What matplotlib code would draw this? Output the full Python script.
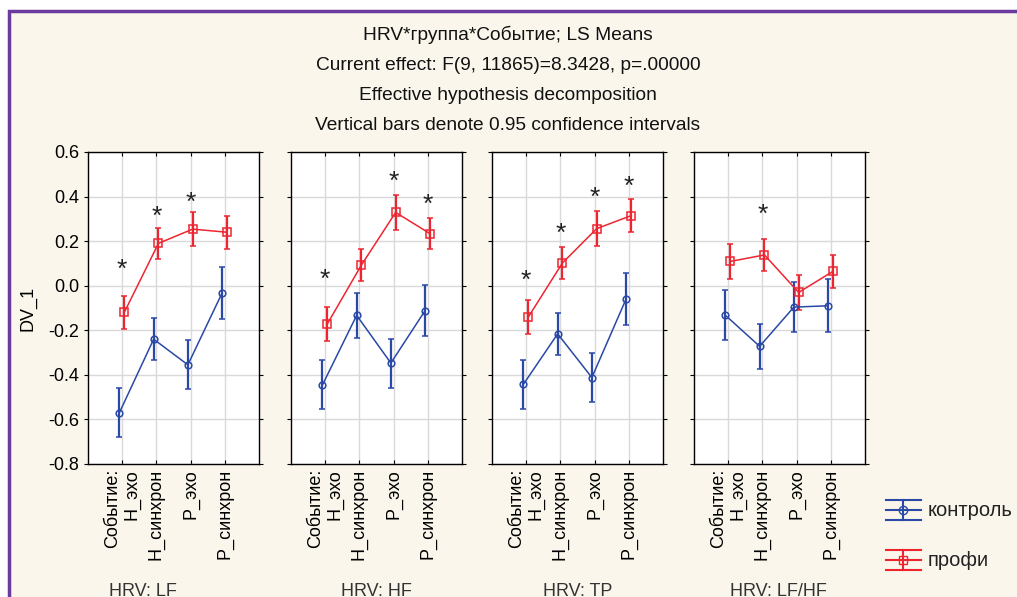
import matplotlib
matplotlib.use("Agg")
import matplotlib.pyplot as plt
from matplotlib.patches import Rectangle
from matplotlib.lines import Line2D

plt.rcParams['font.family'] = ['Liberation Sans', 'DejaVu Sans']

# --- data ---
events = ["Событие:\nН_эхо", "Н_синхрон", "Р_эхо", "Р_синхрон"]
panels = ["HRV: LF", "HRV: HF", "HRV: TP", "HRV: LF/HF"]

control_mean = [
    [-0.569, -0.240, -0.355, -0.033],
    [-0.445, -0.133, -0.347, -0.112],
    [-0.442, -0.216, -0.412, -0.060],
    [-0.133, -0.272, -0.096, -0.090],
]
control_ci = [
    [0.110, 0.095, 0.110, 0.115],
    [0.110, 0.100, 0.110, 0.114],
    [0.110, 0.095, 0.112, 0.116],
    [0.112, 0.100, 0.113, 0.118],
]
profi_mean = [
    [-0.120, 0.190, 0.254, 0.240],
    [-0.172, 0.093, 0.329, 0.234],
    [-0.141, 0.102, 0.256, 0.314],
    [0.109, 0.138, -0.030, 0.064],
]
profi_ci = [
    [0.076, 0.071, 0.077, 0.074],
    [0.075, 0.070, 0.077, 0.071],
    [0.075, 0.072, 0.079, 0.075],
    [0.077, 0.072, 0.078, 0.075],
]
# significance stars: (event index, y)
stars = [
    [(1, 0.072), (2, 0.308), (3, 0.370)],
    [(1, 0.027), (3, 0.466), (4, 0.365)],
    [(1, 0.024), (2, 0.231), (3, 0.394), (4, 0.443)],
    [(2, 0.319)],
]

title_lines = [
    "HRV*группа*Событие; LS Means",
    "Current effect: F(9, 11865)=8.3428, p=.00000",
    "Effective hypothesis decomposition",
    "Vertical bars denote 0.95 confidence intervals",
]

BLUE = "#2a48a6"
RED = "#ee2530"
BG = "#faf6ec"
W, H = 1017, 597

fig = plt.figure(figsize=(W / 100, H / 100), dpi=100, facecolor="white")
fig.patches.append(Rectangle((9 / W, -0.1), 1.2, 1 - 11 / H + 0.1, transform=fig.transFigure,
                             facecolor=BG, edgecolor="#6a3a9c", linewidth=2.5, zorder=-10))

for i, t in enumerate(title_lines):
    fig.text(508 / W, 1 - (35 + 30 * i) / H, t, ha="center", va="center", fontsize=13.8,
             color="#111111")

lefts = [88, 291, 492, 694]
label_x = [143, 376, 578, 778]
x = [1, 2, 3, 4]
for p in range(4):
    ax = fig.add_axes([lefts[p] / W, (H - 464) / H, 171 / W, 312 / H])
    ax.set_facecolor("white")
    ax.set_xlim(0, 5)
    ax.set_ylim(-0.8, 0.6)
    ax.set_yticks([-0.8, -0.6, -0.4, -0.2, 0.0, 0.2, 0.4, 0.6])
    ax.set_xticks(x)
    ax.grid(True, color="#d9d9d9", linewidth=1)
    ax.set_axisbelow(True)
    for s in ax.spines.values():
        s.set_linewidth(1)
    ax.tick_params(axis="y", direction="out", left=True, right=True, length=3, labelsize=13)
    ax.tick_params(axis="x", direction="in", top=True, bottom=True, length=3, labelsize=13)
    if p == 0:
        ax.set_yticklabels(["-0.8", "-0.6", "-0.4", "-0.2", "0.0", "0.2", "0.4", "0.6"])
        ax.set_ylabel("DV_1", fontsize=13, labelpad=8)
    else:
        ax.set_yticklabels([])
    ax.set_xticklabels(events, rotation=90, va="top", ha="center", multialignment="right")

    ax.errorbar([v - 0.08 for v in x], control_mean[p], yerr=control_ci[p], color=BLUE,
                marker="o", markersize=4.8, markerfacecolor="none", markeredgewidth=1.1,
                linewidth=1.1, elinewidth=1.6, capsize=2.5, capthick=1.6)
    ax.errorbar([v + 0.06 for v in x], profi_mean[p], yerr=profi_ci[p], color=RED,
                marker="s", markersize=5.5, markerfacecolor="none", markeredgewidth=1.1,
                linewidth=1.1, elinewidth=1.6, capsize=2.5, capthick=1.6)
    for (k, yv) in stars[p]:
        ax.text(k, yv, "*", ha="center", va="center", fontsize=19, color="#222222")

    fig.text(label_x[p] / W, 1 - 591 / H, panels[p], ha="center", va="center", fontsize=13,
             color="#333333")

# legend drawn as errorbar-like icons
for yc, col, mk, name in [(510, BLUE, "o", "контроль"), (560, RED, "s", "профи")]:
    yf = 1 - yc / H
    for dy in (-10, 0, 10):
        fig.lines.append(Line2D([886 / W, 921 / W], [yf + dy / H, yf + dy / H],
                                transform=fig.transFigure, color=col, linewidth=1.5))
    fig.lines.append(Line2D([903 / W, 903 / W], [yf - 10 / H, yf + 10 / H],
                            transform=fig.transFigure, color=col, linewidth=1.5))
    fig.lines.append(Line2D([903 / W], [yf], transform=fig.transFigure, color=col, marker=mk,
                            markersize=6, markerfacecolor="none", linestyle="none"))
    fig.text(928 / W, yf, name, ha="left", va="center", fontsize=14.5, color="#222222")

fig.savefig("out.png", dpi=100, facecolor="white")
